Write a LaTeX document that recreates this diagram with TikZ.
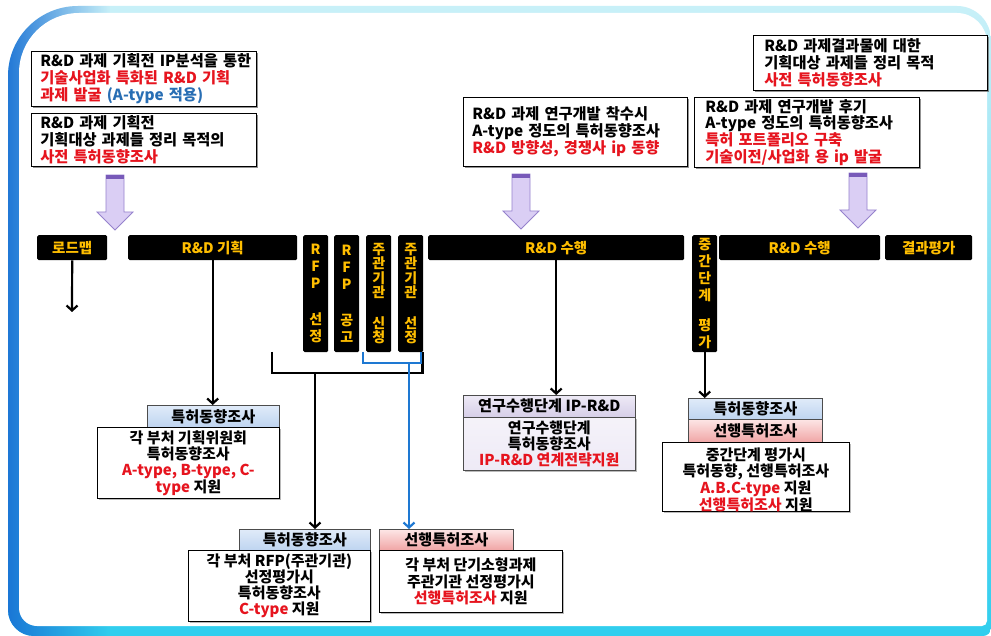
\documentclass[tikz,border=0pt]{standalone}
\usepackage{fontspec}
\setmainfont{Noto Sans CJK KR}
\usetikzlibrary{arrows.meta,shadows,fadings}
\definecolor{myred}{RGB}{230,20,30}
\definecolor{myblue}{RGB}{40,110,180}
\definecolor{baryel}{RGB}{255,190,0}
\definecolor{hblueT}{RGB}{224,235,249}
\definecolor{hblueB}{RGB}{190,212,240}
\definecolor{hpinkT}{RGB}{253,230,230}
\definecolor{hpinkB}{RGB}{240,165,165}
\definecolor{lavT}{RGB}{238,234,246}
\definecolor{lavB}{RGB}{214,206,232}
\definecolor{parrF}{RGB}{218,206,244}
\definecolor{parrD}{RGB}{150,130,205}
\definecolor{parrT}{RGB}{120,90,185}
\definecolor{fblue}{RGB}{24,112,212}
\definecolor{fcyan}{RGB}{48,206,238}
\definecolor{fpale}{RGB}{200,240,248}
\tikzset{
 tbox/.style={draw=black, line width=0.7pt, fill=white, anchor=north west, align=left,
   inner xsep=9pt, inner ysep=0pt,
   drop shadow={shadow xshift=2pt, shadow yshift=-2pt, fill=black!60, opacity=0.7},
   font=\bfseries\fontsize{15.3}{16.7}\selectfont},
 bar/.style={fill=black, rounded corners=1.5pt, anchor=north west, inner sep=0pt,
   text=baryel, align=center, font=\bfseries\fontsize{14.5}{15}\selectfont},
 vbar/.style={bar, minimum width=25pt, minimum height=117pt, font=\bfseries\fontsize{14}{17}\selectfont},
 hdr/.style={draw=black!70, line width=0.6pt, anchor=north west, inner sep=0pt,
   font=\bfseries\fontsize{15.2}{16}\selectfont},
 hblue/.style={hdr, top color=hblueT, bottom color=hblueB},
 hpink/.style={hdr, top color=hpinkT, bottom color=hpinkB},
 hlav/.style={hdr, top color=lavT, bottom color=lavB},
 body/.style={draw=black, line width=0.7pt, fill=white, anchor=north west, inner sep=0pt,
   align=center, font=\bfseries\fontsize{15}{16.3}\selectfont,
   drop shadow={shadow xshift=1.2pt, shadow yshift=-1.2pt, fill=black!45, opacity=0.6}},
 conn/.style={line width=2.2pt, black},
 connB/.style={line width=2.2pt, draw={rgb,255:red,30;green,120;blue,210}},
 arr/.style={conn, -{Straight Barb[length=5pt,width=11pt]}},
 arrB/.style={connB, -{Straight Barb[length=5pt,width=11pt]}},
 parr/.style={fill=parrF, draw=parrD, line width=0.8pt, line join=miter},
}
\def\myparrow#1#2{%
  \path[parr] ({#1-9},{#2}) -- ({#1+9},{#2}) -- ({#1+9},{#2+37}) -- ({#1+18},{#2+37})
     -- ({#1},{#2+55}) -- ({#1-18},{#2+37}) -- ({#1-9},{#2+37}) -- cycle;
  \fill[parrT] ({#1-8.6},{#2+0.4}) rectangle ({#1+8.6},{#2+4});
}
\def\outerpath{[rounded corners=70pt] (8,320) -- (8,6) -- (500,6) [rounded corners=34pt] -- (991,6) -- (991,320) [rounded corners=8pt] -- (991,636) -- (500,636) [rounded corners=26pt] -- (8,636) -- cycle}
\def\innerpath{[rounded corners=60pt] (19,320) -- (19,13) -- (500,13) [rounded corners=30pt] -- (987,13) -- (987,320) [rounded corners=5pt] -- (987,626) -- (500,626) [rounded corners=18pt] -- (19,626) -- cycle}
\begin{document}
\begin{tikzpicture}[x=1pt,y=-1pt]
\useasboundingbox (0,0) rectangle (991,636);
\fill[white] (0,0) rectangle (991,636);
% frame
\shade[top color=fpale, bottom color=fcyan] \outerpath;
\begin{scope}
  \clip \outerpath;
  \fill[fblue, path fading=east] (0,0) rectangle (110,636);
\end{scope}
\fill[white] \innerpath;

% top boxes
\node[tbox, text width=207pt, minimum height=55pt] (t1) at (31,51)
 {\mbox{R\&D 과제 기획전 IP분석을 통한}\\
  {\color{myred}기술사업화 특화된 R\&D 기획}\\
  {\color{myred}과제 발굴} {\color{myblue}(A-type 적용)}};
\node[tbox, text width=207pt, minimum height=53pt] (t2) at (31,113)
 {R\&D 과제 기획전\\ 기획대상 과제들 정리 목적의\\ {\color{myred}사전 특허동향조사}};
\node[tbox, text width=206pt, minimum height=69pt] (t3) at (463,97)
 {R\&D 과제 연구개발 착수시\\ A-type 정도의 특허동향조사\\ {\color{myred}R\&D 방향성, 경쟁사 ip 동향}};
\node[tbox, text width=212pt, minimum height=55pt, inner xsep=11pt] (t4) at (753,35)
 {R\&D 과제결과물에 대한\\ 기획대상 과제들 정리 목적\\ {\color{myred}사전 특허동향조사}};
\node[tbox, text width=203pt, minimum height=70pt, inner xsep=11pt] (t5) at (694,97)
 {R\&D 과제 연구개발 후기\\ A-type 정도의 특허동향조사\\ {\color{myred}특허 포트폴리오 구축}\\ {\color{myred}기술이전/사업화 용 ip 발굴}};

% purple block arrows
\myparrow{115}{175}
\myparrow{521}{174}
\myparrow{858}{173}

% bars
\node[bar, minimum width=70pt, minimum height=25pt] (rm) at (37,235) {로드맵};
\node[bar, minimum width=169pt, minimum height=25pt] (plan) at (128,235) {R\&D 기획};
\node[vbar] (rfpS) at (303,235) {R\\F\\P\\[19pt]선\\정};
\node[vbar] (rfpG) at (334,235) {R\\F\\P\\[19pt]공\\고};
\node[vbar, font=\bfseries\fontsize{14}{14.5}\selectfont] (hostA) at (366,235) {주\\관\\기\\관\\[16pt]신\\청};
\node[vbar, font=\bfseries\fontsize{14}{14.5}\selectfont] (hostS) at (398,235) {주\\관\\기\\관\\[16pt]선\\정};
\node[bar, minimum width=256pt, minimum height=25pt] (exec1) at (428,235) {R\&D 수행};
\node[vbar, font=\bfseries\fontsize{14}{17}\selectfont] (mid) at (692,235) {중\\간\\단\\계\\[13pt]평\\가};
\node[bar, minimum width=161pt, minimum height=25pt] (exec2) at (719,235) {R\&D 수행};
\node[bar, minimum width=87pt, minimum height=25pt] (eval) at (885,235) {결과평가};

% lower boxes
\node[hblue, minimum width=132pt, minimum height=22pt] (h1) at (147,405) {특허동향조사};
\node[body, minimum width=182pt, minimum height=71pt] (b1) at (97,427)
 {각 부처 기획위원회\\ 특허동향조사\\ {\color{myred}A-type, B-type, C-}\\ {\color{myred}type} 지원};

\node[hlav, minimum width=172pt, minimum height=22pt] (h2) at (463,395) {연구수행단계 IP-R\&D};
\node[body, top color=lavT!60, bottom color=lavT, minimum width=172pt, minimum height=53pt, draw=black!70] (b2) at (463,417)
 {연구수행단계\\ 특허동향조사\\ {\color{myred}IP-R\&D 연계전략지원}};

\node[hblue, minimum width=134pt, minimum height=21pt] (h3a) at (688,398) {특허동향조사};
\node[hpink, minimum width=134pt, minimum height=23pt] (h3b) at (688,419) {선행특허조사};
\node[body, minimum width=187pt, minimum height=63pt, font=\bfseries\fontsize{15}{15.8}\selectfont] (b3) at (662,442)
 {\rule{0pt}{18pt}중간단계 평가시\\ 특허동향, 선행특허조사\\ {\color{myred}A.B.C-type} 지원\\ {\color{myred}선행특허조사} 지원};

\node[hblue, minimum width=131pt, minimum height=21pt] (h4) at (239,529) {특허동향조사};
\node[body, minimum width=182pt, minimum height=71pt] (b4) at (188,550)
 {각 부처 RFP(주관기관)\\ 선정평가시\\ 특허동향조사\\ {\color{myred}C-type} 지원};

\node[hpink, minimum width=134pt, minimum height=21pt] (h5) at (379,529) {선행특허조사};
\node[body, minimum width=183pt, minimum height=62pt] (b5) at (379,550)
 {각 부처 단기소형과제\\ 주관기관 선정평가시\\ {\color{myred}선행특허조사} 지원};

% connectors
\coordinate (rmEnd) at (72,312);
\draw[arr] (rm.south) -- (rmEnd);
\draw[arr] (plan.south) -- (plan.south |- h1.north);

\coordinate (bkL) at (272,352);
\coordinate (bkR) at (422.5,352);
\coordinate (bkM) at (315,373);
\draw[conn, line join=miter] (bkL) |- (bkM) -| (bkR);
\draw[arr] (bkM) -- (bkM |- h4.north);

\coordinate (blL) at (363,352);
\coordinate (blR) at (421,352);
\coordinate (blM) at (409,363);
\draw[connB, line join=miter] (blL) |- (blM) -| (blR);
\draw[arrB] (blM) -- (blM |- h5.north);

\draw[arr] (exec1.south) -- (exec1.south |- h2.north);
\draw[arr] (mid.south) -- (mid.south |- h3a.north);
\end{tikzpicture}
\end{document}
